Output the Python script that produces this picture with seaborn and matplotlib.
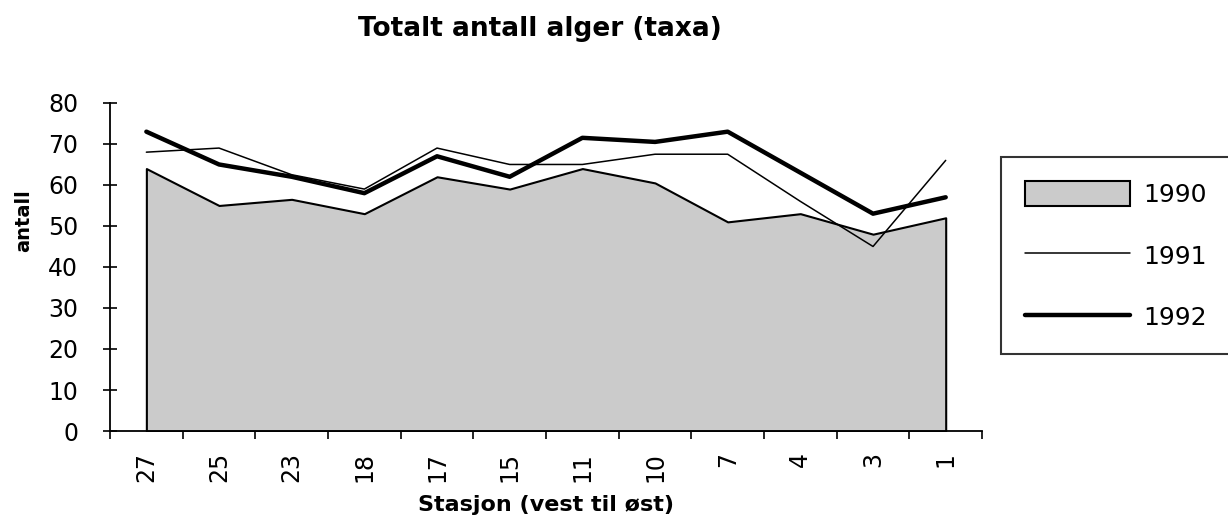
import matplotlib
matplotlib.use("Agg")
import matplotlib.pyplot as plt
import seaborn as sns
import pandas as pd
import numpy as np

sns.set_style("white")
plt.rcParams['font.family'] = ['DejaVu Sans']
plt.rcParams['text.color'] = 'black'
plt.rcParams['axes.labelcolor'] = 'black'
plt.rcParams['xtick.color'] = 'black'
plt.rcParams['ytick.color'] = 'black'

# Data
stations = ['27', '25', '23', '18', '17', '15', '11', '10', '7', '4', '3', '1']
y1990 = [64, 55, 56.5, 53, 62, 59, 64, 60.5, 51, 53, 48, 52]
y1991 = [68, 69, 62.5, 59, 69, 65, 65, 67.5, 67.5, 56, 45, 66]
y1992 = [73, 65, 62, 58, 67, 62, 71.5, 70.5, 73, 63, 53, 57]

pos = np.arange(len(stations))
df = pd.DataFrame({'pos': pos, 'station': stations,
                   '1990': y1990, '1991': y1991, '1992': y1992})

fig = plt.figure(figsize=(12.28, 5.28), dpi=100)
ax = fig.add_axes([0.0896, 0.1837, 0.7101, 0.6213])

# 1990 as filled area, the other years as lines
ax.fill_between(df['pos'], 0, df['1990'], facecolor='#cbcbcb',
                edgecolor='black', linewidth=1.5, label='1990')
sns.lineplot(data=df, x='pos', y='1991', color='black', linewidth=1.1,
             ax=ax, label='1991')
sns.lineplot(data=df, x='pos', y='1992', color='black', linewidth=3.2,
             ax=ax, label='1992')

ax.set_xlim(-0.5, len(stations) - 0.5)
ax.set_ylim(0, 80)
ax.set_yticks(range(0, 81, 10))
ax.set_xticks(pos)
ax.set_xticklabels(stations, rotation=90)
ax.set_xticks(np.arange(-0.5, len(stations), 1), minor=True)
ax.tick_params(axis='x', which='major', length=0, pad=15, labelsize=17)
ax.tick_params(axis='x', which='minor', length=6, width=1.2, direction='out',
               bottom=True)
ax.tick_params(axis='y', length=10, width=1.2, direction='inout', left=True,
               labelsize=17, pad=18)

for side in ['top', 'right']:
    ax.spines[side].set_visible(False)
for side in ['left', 'bottom']:
    ax.spines[side].set_color('black')
    ax.spines[side].set_linewidth(1.3)

ax.set_xlabel('Stasjon (vest til øst)', fontsize=16, fontweight='bold')
ax.xaxis.set_label_coords(0.5, -0.195)
ax.set_ylabel('antall', fontsize=14, fontweight='bold')
ax.yaxis.set_label_coords(-0.088, 0.64)

fig.text(0.44, 0.945, 'Totalt antall alger (taxa)', fontsize=19,
         fontweight='bold', ha='center', va='center')

ax.get_legend().remove()
handles, labels = ax.get_legend_handles_labels()
leg = fig.legend(handles, labels, loc='upper left',
                 bbox_to_anchor=(0.815, 0.324, 0.25, 0.379), mode='expand',
                 borderaxespad=0, frameon=True, fancybox=False, fontsize=18,
                 handlelength=4.2, handleheight=1.2, labelspacing=1.42,
                 borderpad=0.95, handletextpad=0.55)
leg.get_frame().set_edgecolor('black')
leg.get_frame().set_linewidth(1.5)

plt.savefig('out.png', dpi=100)
